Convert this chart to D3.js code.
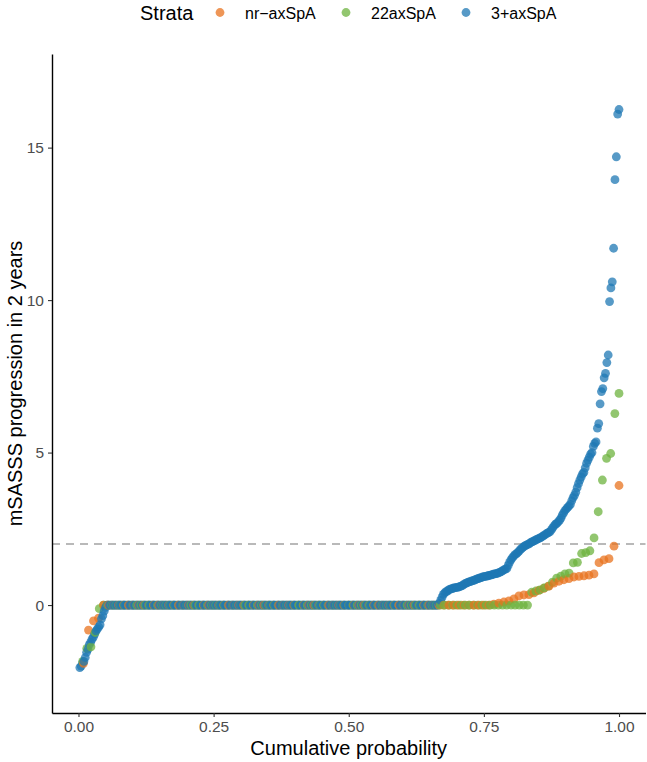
<!DOCTYPE html>
<html>
<head>
<meta charset="utf-8">
<script src="https://cdn.jsdelivr.net/npm/d3@7"></script>
<style>
  html, body { margin: 0; padding: 0; background: #fff; }
  svg { display: block; font-family: "Liberation Sans", Arial, Helvetica, sans-serif; }
</style>
</head>
<body>
<svg id="chart" width="647" height="762"></svg>
<script>
// ---- Data ----
const strata = ["nr\u2212axSpA", "22axSpA", "3+axSpA"];
const strataColors = ["#E8731F", "#6DB33F", "#1F78B4"];

// nr-axSpA (n = 108)
const nrBelowZero = [-1.91, -0.82, -0.52, -0.43];
const nrZeroCount = 78;
const nrAboveZero = [0.03, 0.06, 0.10, 0.14, 0.20, 0.30, 0.33, 0.34, 0.40, 0.48,
  0.55, 0.62, 0.72, 0.78, 0.83, 0.87, 0.92, 0.94, 0.96, 0.98,
  1.02, 1.39, 1.48, 1.52, 1.93, 3.92];

// 2-axSpA (n = 130)
const twoBelowZero = [-1.85, -1.42, -1.37, -0.90, -0.12];
const twoZeroCount = 103;
const twoAboveZero = [0.42, 0.46, 0.50, 0.56, 0.62, 0.75, 0.88, 0.95, 1.02, 1.05,
  1.38, 1.40, 1.69, 1.72, 1.78, 2.20, 3.06, 4.10, 4.81, 4.97, 6.28, 6.94];

// 3+axSpA (n = 400)
const threeBelowZero = [-2.05, -2.00, -1.90, -1.85, -1.72, -1.55, -1.45, -1.30, -1.22, -1.12,
  -1.05, -0.95, -0.85, -0.78, -0.72, -0.65, -0.45, -0.35, -0.20, -0.08];
const threeZeroCount = 246;
const threeAboveZero = [0.05, 0.15, 0.25, 0.35, 0.40, 0.44, 0.46, 0.50, 0.52, 0.53,
  0.55, 0.56, 0.57, 0.58, 0.59, 0.60, 0.62, 0.64, 0.67, 0.70,
  0.72, 0.74, 0.76, 0.77, 0.79, 0.80, 0.82, 0.84, 0.86, 0.87,
  0.89, 0.90, 0.92, 0.93, 0.94, 0.95, 0.96, 0.97, 0.98, 1.00,
  1.01, 1.02, 1.03, 1.04, 1.06, 1.08, 1.10, 1.13, 1.16, 1.18,
  1.20, 1.30, 1.40, 1.48, 1.55, 1.60, 1.65, 1.68, 1.72, 1.77,
  1.82, 1.86, 1.90, 1.93, 1.96, 1.98, 2.00, 2.03, 2.06, 2.08,
  2.10, 2.12, 2.15, 2.17, 2.19, 2.21, 2.24, 2.27, 2.30, 2.33,
  2.36, 2.38, 2.41, 2.47, 2.54, 2.60, 2.65, 2.68, 2.73, 2.78,
  2.85, 2.95, 3.02, 3.10, 3.15, 3.20, 3.25, 3.30, 3.42, 3.52,
  3.60, 3.70, 3.85, 3.98, 4.10, 4.20, 4.30, 4.35, 4.50, 4.65,
  4.75, 4.85, 4.95, 5.00, 5.20, 5.30, 5.35, 5.80, 5.95, 6.60,
  7.00, 7.10, 7.45, 7.60, 7.95, 8.20, 9.95, 10.40, 10.60, 11.70,
  13.95, 14.70, 16.10, 16.25];

const xTicks = [0, 0.25, 0.5, 0.75, 1];
const yTicks = [0, 5, 10, 15];
const thresholdValue = 2;
const xTitle = "Cumulative probability";
const yTitle = "mSASSS progression in 2 years";
const legendTitle = "Strata";

// ---- Build the per-stratum sorted series ----
const groups = [
  nrBelowZero.concat(new Array(nrZeroCount).fill(0), nrAboveZero),
  twoBelowZero.concat(new Array(twoZeroCount).fill(0), twoAboveZero),
  threeBelowZero.concat(new Array(threeZeroCount).fill(0), threeAboveZero)
];
const points = [];
groups.forEach((vals, g) => {
  const sorted = vals.slice().sort((a, b) => a - b);
  const n = sorted.length;
  sorted.forEach((v, i) => points.push({ g, p: (i + 1) / n, v }));
});
points.sort((a, b) => a.p - b.p);

// ---- Layout ----
const svg = d3.select("#chart");
const panelLeft = 52, panelRight = 645.5, panelTop = 54, panelBottom = 713;

const x = d3.scaleLinear().domain([-0.049, 1.049]).range([panelLeft, panelRight]);
const y = d3.scaleLinear().domain([-3.54, 18.07]).range([panelBottom, panelTop]);

// threshold dashed line
svg.append("line")
  .attr("x1", panelLeft).attr("x2", panelRight)
  .attr("y1", y(thresholdValue)).attr("y2", y(thresholdValue))
  .attr("stroke", "#A3A3A3").attr("stroke-width", 1.6)
  .attr("stroke-dasharray", "8,6");

// points
svg.append("g").selectAll("circle").data(points).join("circle")
  .attr("cx", d => x(d.p))
  .attr("cy", d => y(d.v))
  .attr("r", 4.4)
  .attr("fill", d => strataColors[d.g])
  .attr("fill-opacity", 0.75);

// axes
const xAxis = svg.append("g").attr("transform", `translate(0,${panelBottom})`)
  .call(d3.axisBottom(x).tickValues(xTicks).tickFormat(d3.format(".2f"))
    .tickSize(4).tickSizeOuter(0).tickPadding(4));
const yAxis = svg.append("g").attr("transform", `translate(${panelLeft},0)`)
  .call(d3.axisLeft(y).tickValues(yTicks).tickFormat(d3.format("d"))
    .tickSize(4).tickSizeOuter(0).tickPadding(4));

[xAxis, yAxis].forEach(a => {
  a.select(".domain").attr("stroke", "#000").attr("stroke-width", 1.4);
  a.selectAll(".tick line").attr("stroke", "#333").attr("stroke-width", 1.1);
  a.selectAll(".tick text").attr("fill", "#4D4D4D")
    .attr("font-size", 15.5).attr("font-family", "Liberation Sans, Arial, sans-serif");
});

// axis titles
svg.append("text")
  .attr("x", (panelLeft + panelRight) / 2).attr("y", 755)
  .attr("text-anchor", "middle").attr("font-size", 20).attr("fill", "#000")
  .text(xTitle);
svg.append("text")
  .attr("transform", `translate(22,${(panelTop + panelBottom) / 2}) rotate(-90)`)
  .attr("text-anchor", "middle").attr("font-size", 20).attr("fill", "#000")
  .text(yTitle);

// legend
const lg = svg.append("g");
lg.append("text").attr("x", 140).attr("y", 20).attr("font-size", 20)
  .attr("fill", "#000").text(legendTitle);
const legendDotX = [220, 346, 466];
const legendTextX = [245, 371, 491];
strata.forEach((s, i) => {
  lg.append("circle").attr("cx", legendDotX[i]).attr("cy", 12.5).attr("r", 4.4)
    .attr("fill", strataColors[i]).attr("fill-opacity", 0.75);
  lg.append("text").attr("x", legendTextX[i]).attr("y", 18.5).attr("font-size", 16)
    .attr("fill", "#000").text(s);
});
</script>
</body>
</html>
